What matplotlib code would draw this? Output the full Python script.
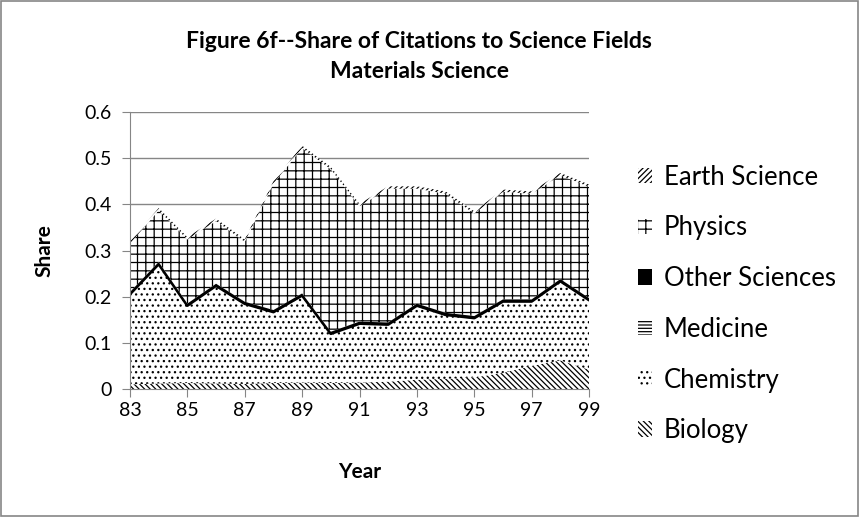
import numpy as np
import matplotlib
matplotlib.use("Agg")
import matplotlib.pyplot as plt
from matplotlib.patches import Patch, Rectangle

years = [83, 84, 85, 86, 87, 88, 89, 90, 91, 92, 93, 94, 95, 96, 97, 98, 99]
fields = ["Biology", "Chemistry", "Medicine", "Other Sciences", "Physics", "Earth Science"]
biology = [0.010, 0.012, 0.013, 0.012, 0.011, 0.013, 0.014, 0.013, 0.014,
           0.016, 0.020, 0.022, 0.025, 0.035, 0.050, 0.062, 0.042]
chemistry = [0.194, 0.257, 0.166, 0.210, 0.172, 0.152, 0.187, 0.105, 0.126,
             0.122, 0.159, 0.137, 0.127, 0.153, 0.138, 0.170, 0.149]
medicine = [0.002, 0.002, 0.002, 0.002, 0.002, 0.002, 0.002, 0.002, 0.002,
            0.002, 0.002, 0.002, 0.002, 0.002, 0.002, 0.002, 0.002]
other_sciences = [0.004, 0.004, 0.004, 0.004, 0.004, 0.004, 0.004, 0.004, 0.004,
                  0.004, 0.004, 0.004, 0.004, 0.004, 0.004, 0.004, 0.004]
physics = [0.105, 0.112, 0.139, 0.136, 0.130, 0.274, 0.315, 0.352, 0.250,
           0.290, 0.249, 0.258, 0.222, 0.233, 0.229, 0.225, 0.241]
earth_science = [0.005, 0.005, 0.005, 0.005, 0.005, 0.005, 0.005, 0.005, 0.005,
                 0.005, 0.005, 0.005, 0.005, 0.005, 0.005, 0.005, 0.005]
x_ticks = [83, 85, 87, 89, 91, 93, 95, 97, 99]

plt.rcParams["font.family"] = ["Lato", "DejaVu Sans"]
plt.rcParams["hatch.linewidth"] = 0.9

GRAY = "#868686"
series = [biology, chemistry, medicine, other_sciences, physics, earth_science]
styles = [
    dict(facecolor="white", hatch="\\\\\\\\\\\\"),
    dict(facecolor="white", hatch="..."),
    dict(facecolor="white", hatch="-----"),
    dict(facecolor="black", hatch=""),
    dict(facecolor="white", hatch="++"),
    dict(facecolor="white", hatch="//////"),
]

fig = plt.figure(figsize=(8.6, 5.17), dpi=100)
ax = fig.add_axes([130 / 860, 1 - 389 / 517, (589 - 130) / 860, (389 - 112) / 517])

x = np.array(years, dtype=float)
base = np.zeros(len(years))
for name, vals, st in zip(fields, series, styles):
    top = base + np.array(vals)
    lw = 2.2 if name == "Other Sciences" else 0
    ax.fill_between(x, base, top, facecolor=st["facecolor"], hatch=st["hatch"],
                    edgecolor="black", linewidth=lw, zorder=2)
    base = top

ax.set_xlim(83, 99)
ax.set_ylim(0, 0.6)
ax.set_yticks(np.arange(0, 0.61, 0.1))
ax.set_yticklabels(["0", "0.1", "0.2", "0.3", "0.4", "0.5", "0.6"])
ax.set_xticks(x_ticks)
ax.set_xticklabels([str(t) for t in x_ticks])
ax.grid(axis="y", color=GRAY, linewidth=1.0, zorder=0)
ax.set_axisbelow(True)
for s in ["top", "right"]:
    ax.spines[s].set_visible(False)
for s in ["left", "bottom"]:
    ax.spines[s].set_color(GRAY)
    ax.spines[s].set_zorder(3)
ax.tick_params(axis="y", length=6, color=GRAY, labelsize=14, pad=7)
ax.tick_params(axis="x", length=6, color=GRAY, labelsize=14, pad=3)

ax.set_xlabel("Year", fontsize=15, fontweight="bold", labelpad=31)
ax.set_ylabel("Share", fontsize=15, fontweight="bold", labelpad=22)

fig.text(419 / 860, 1 - 42 / 517, "Figure 6f--Share of Citations to Science Fields",
         ha="center", va="center", fontsize=16.5, fontweight="bold")
fig.text(419 / 860, 1 - 71 / 517, "Materials Science",
         ha="center", va="center", fontsize=16.5, fontweight="bold")

handles = [Patch(facecolor=st["facecolor"], hatch=st["hatch"], edgecolor="black",
                 linewidth=0, label=name) for name, st in zip(fields, styles)]
fig.legend(handles[::-1], fields[::-1], loc="center left",
           bbox_to_anchor=(638 / 860, 1 - 304 / 517), bbox_transform=fig.transFigure,
           frameon=False, fontsize=18.5, handlelength=0.55, handleheight=0.55,
           handletextpad=0.45, labelspacing=1.0, borderpad=0, borderaxespad=0)

fig.patches.append(Rectangle((0.001, 0.001), 0.997, 0.997, transform=fig.transFigure,
                             fill=False, edgecolor=GRAY, linewidth=1.2))

fig.savefig("out.png", dpi=100)
